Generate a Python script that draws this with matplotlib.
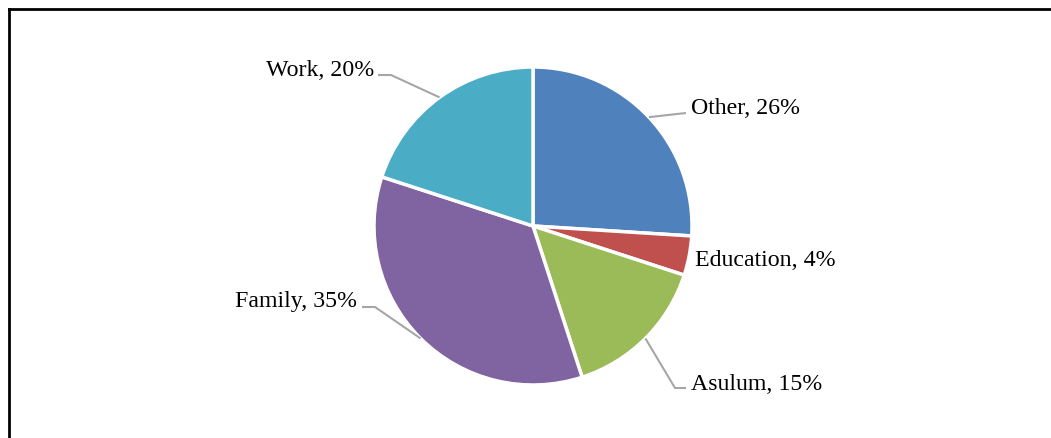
import matplotlib.pyplot as plt
import numpy as np

plt.rcParams['font.family'] = ['Liberation Serif', 'DejaVu Serif']

# data
labels = ['Other', 'Education', 'Asulum', 'Family', 'Work']
shares = [26, 4, 15, 35, 20]
colors = ['#4F81BD', '#C0504D', '#9BBB59', '#8064A2', '#4BACC6']

W, H = 1051, 438
fig = plt.figure(figsize=(W / 100, H / 100), dpi=100)
ax = fig.add_axes([0, 0, 1, 1])

cx, cy, r = 533, H - 226, 159
wedges, _ = ax.pie(shares, colors=colors, startangle=90, counterclock=False,
                   center=(cx, cy), radius=r, frame=True,
                   wedgeprops=dict(edgecolor='white', linewidth=2.5))
ax.set_xlim(0, W)
ax.set_ylim(0, H)
ax.axis('off')

# label layout: (elbow, line end x, text x, text y, ha) in pixels from top-left
layout = {
    'Other':     ((686, 113), 686, 691, 108, 'left'),
    'Education': (None, None, 695, 260, 'left'),
    'Asulum':    ((675, 388), 686, 691, 384, 'left'),
    'Family':    ((375, 307), 362, 357, 301, 'right'),
    'Work':      ((391, 75), 378, 374, 71, 'right'),
}

for w, lab, s in zip(wedges, labels, shares):
    elbow, end_x, tx, ty, ha = layout[lab]
    mid = np.deg2rad((w.theta1 + w.theta2) / 2)
    ex, ey = cx + r * np.cos(mid), cy + r * np.sin(mid)
    if elbow is not None:
        ax.plot([ex, elbow[0], end_x], [ey, H - elbow[1], H - elbow[1]],
                color='#A6A6A6', lw=1.5, solid_capstyle='butt')
    ax.text(tx, H - ty, f'{lab}, {s}%', ha=ha, va='center', fontsize=17.2,
            color='black')

# outer frame (top and left)
ax.plot([9, W], [H - 9, H - 9], color='black', lw=2, clip_on=False)
ax.plot([9, 9], [H - 9, 0], color='black', lw=2, clip_on=False)

fig.savefig('out.png', dpi=100)
